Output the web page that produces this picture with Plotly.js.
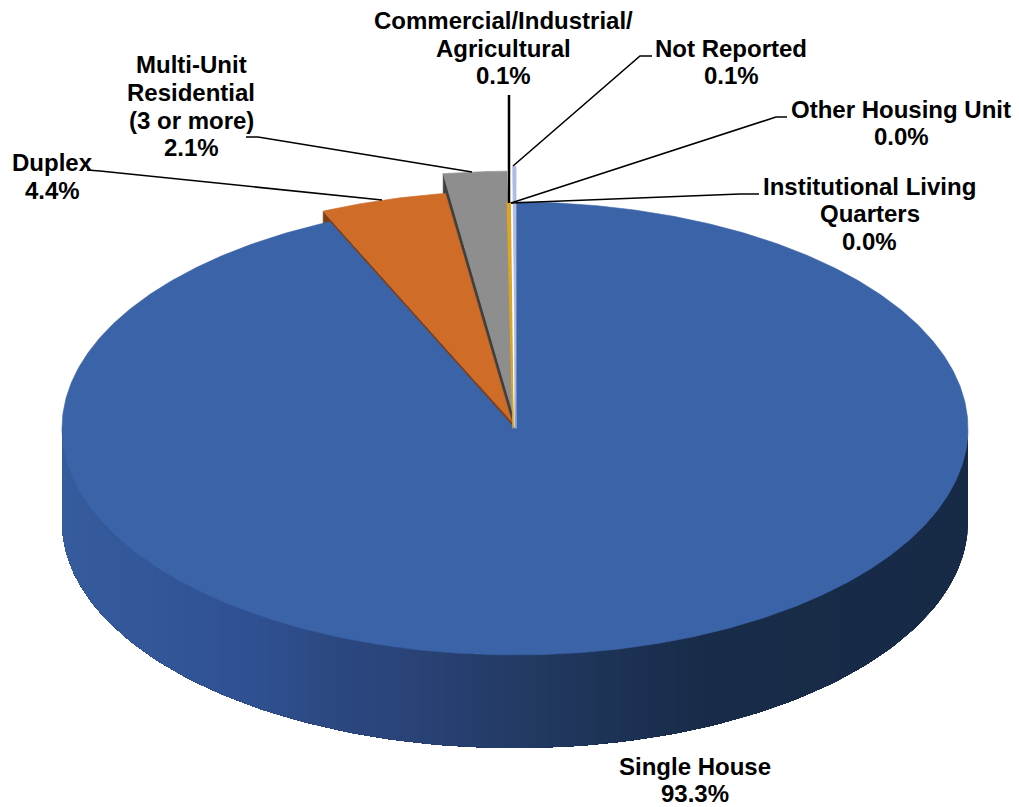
<!DOCTYPE html>
<html><head><meta charset="utf-8">
<script src="https://cdn.plot.ly/plotly-3.0.1.min.js"></script>
<style>html,body{margin:0;padding:0;background:#fff}#c{width:1019px;height:807px}</style>
</head><body><div id="c"></div>
<script>
// Data
const categories = ["Single House","Duplex","Multi-Unit Residential (3 or more)","Commercial/Industrial/ Agricultural","Not Reported","Other Housing Unit","Institutional Living Quarters"];
const shares = [93.3,4.4,2.1,0.1,0.1,0.0,0.0];
const labelLines = [["Single House"],["Duplex"],["Multi-Unit","Residential","(3 or more)"],["Commercial/Industrial/","Agricultural"],["Not Reported"],["Other Housing Unit"],["Institutional Living","Quarters"]];
const sliceColors = ["#3A63A8","#CF6C27","#8E8E8E","#DBA522","#AEBBE3","#3A63A8","#3A63A8"];
const cutColors = ["#3A63A8","#7E3F16","#3F3F3F","#8A6A14","#8894BB","#3A63A8","#3A63A8"];
const labelX = [695,52,191,503.5,731,901,869.5];
const labelBase = [774,170.5,72.7,28.5,56,117,194];
const linePitch = 27.7, baseToMiddle = 8;

// Projection of the tilted pie
const cx=515, cy=428.5, rx=453, ry=226.5, depth=93;
const explode = [[0,0,1],[-3,-6.5,1.02],[-2,-15,1.07],[-2,0,1],[1,0,1.157],[0,0,1],[0,0,1]];
const wallStops = [[62,[54,92,158]],[250,[47,81,146]],[330,[44,72,130]],[420,[41,67,118]],[510,[35,59,102]],[610,[29,50,85]],[710,[24,43,72]],[968,[23,42,70]]];

function pt(deg,s,o){const a=deg*Math.PI/180;return [cx+o[0]+rx*s*Math.sin(a),cy+o[1]-ry*s*Math.cos(a)];}
function wedge(a0,a1,o){const xs=[cx+o[0]],ys=[cy+o[1]];const n=Math.max(2,Math.ceil((a1-a0)*2));
  for(let i=0;i<=n;i++){const p=pt(a0+(a1-a0)*i/n,o[2],o);xs.push(p[0]);ys.push(p[1]);}
  xs.push(xs[0]);ys.push(ys[0]);return [xs,ys];}
function area(x,y,c,lw){return {type:'scatter',mode:'lines',x:x,y:y,fill:'toself',fillcolor:c,line:{color:c,width:lw===undefined?0.6:lw},hoverinfo:'skip',showlegend:false};}
function wallColor(x){for(let i=1;i<wallStops.length;i++){if(x<=wallStops[i][0]){const a=wallStops[i-1],b=wallStops[i],t=(x-a[0])/(b[0]-a[0]);
  const c=a[1].map((v,k)=>Math.round(v+(b[1][k]-v)*t));return `rgb(${c.join(',')})`;}}return `rgb(${wallStops[wallStops.length-1][1].join(',')})`;}

// Cumulative angles from the shares
const angles=[0];shares.forEach((v,i)=>angles.push(angles[i]+v*3.6));
const traces=[];
function cutFace(i,deg){const o=explode[i],p=pt(deg,o[2],o),ax=cx+o[0],ay=cy+o[1];
  traces.push(area([ax,p[0],p[0],ax,ax],[ay,p[1],p[1]+depth,ay+depth,ay],cutColors[i]));}
// back to front: gray, orange, blue, then hairline slices
cutFace(2,angles[2]);{const w=wedge(angles[2],angles[3],explode[2]);traces.push(area(w[0],w[1],sliceColors[2]));}
cutFace(1,angles[1]);{const w=wedge(angles[1],angles[2],explode[1]);traces.push(area(w[0],w[1],sliceColors[1]));}
// Side wall of the big slice: overlapping bands carry the horizontal shading
const wallStep=1.5;
for(let d=90;d<270;d+=wallStep){const end=270,xs=[],ys=[],rim=[];
  const n=Math.max(1,Math.ceil((end-d)/wallStep));
  for(let k=0;k<=n;k++){rim.push(pt(d+(end-d)*k/n,1,[0,0,1]));}
  rim.forEach(p=>{xs.push(p[0]);ys.push(p[1]);});
  rim.slice().reverse().forEach(p=>{xs.push(p[0]);ys.push(p[1]+depth);});xs.push(xs[0]);ys.push(ys[0]);
  traces.push(area(xs,ys,wallColor(pt(d+wallStep/2,1,[0,0,1])[0]),0));}
{const w=wedge(angles[0],angles[1],explode[0]);traces.push(area(w[0],w[1],sliceColors[0]));}
[4,3].forEach(i=>{const w=wedge(angles[i],angles[i+1],explode[i]);traces.push(area(w[0],w[1],sliceColors[i],i===3?1.5:0.8));});

// Text labels, one annotation per line for exact line spacing
const annotations=[];
categories.forEach((c,i)=>{labelLines[i].concat([shares[i].toFixed(1)+'%']).forEach((t,j)=>{
  annotations.push({xref:'x',yref:'y',x:labelX[i],y:labelBase[i]+j*linePitch-baseToMiddle,xanchor:'center',yanchor:'middle',align:'center',showarrow:false,
  text:t,font:{family:'"Liberation Sans",Arial,sans-serif',size:24,color:'#000',weight:700}});});});

// Leader lines
const leaders=[
 'M87,170 L100,171 L382,200','M246,137 L258,137 L472,172','M509,95 L509,203','M652,56 L640,56 L513,166','M787,117 L776,117 L511,203','M759,194 L740,194 L511,203'];
const shapes=leaders.map((p,i)=>({type:'path',path:p,xref:'x',yref:'y',line:{color:'#000',width:i===2?2.5:1.6}}));

Plotly.newPlot('c',traces,{width:1019,height:807,margin:{l:0,r:0,t:0,b:0},paper_bgcolor:'#fff',plot_bgcolor:'#fff',showlegend:false,
 xaxis:{range:[0,1019],visible:false,fixedrange:true},yaxis:{range:[807,0],visible:false,fixedrange:true},
 annotations:annotations,shapes:shapes},{displayModeBar:false,staticPlot:true});
</script></body></html>
